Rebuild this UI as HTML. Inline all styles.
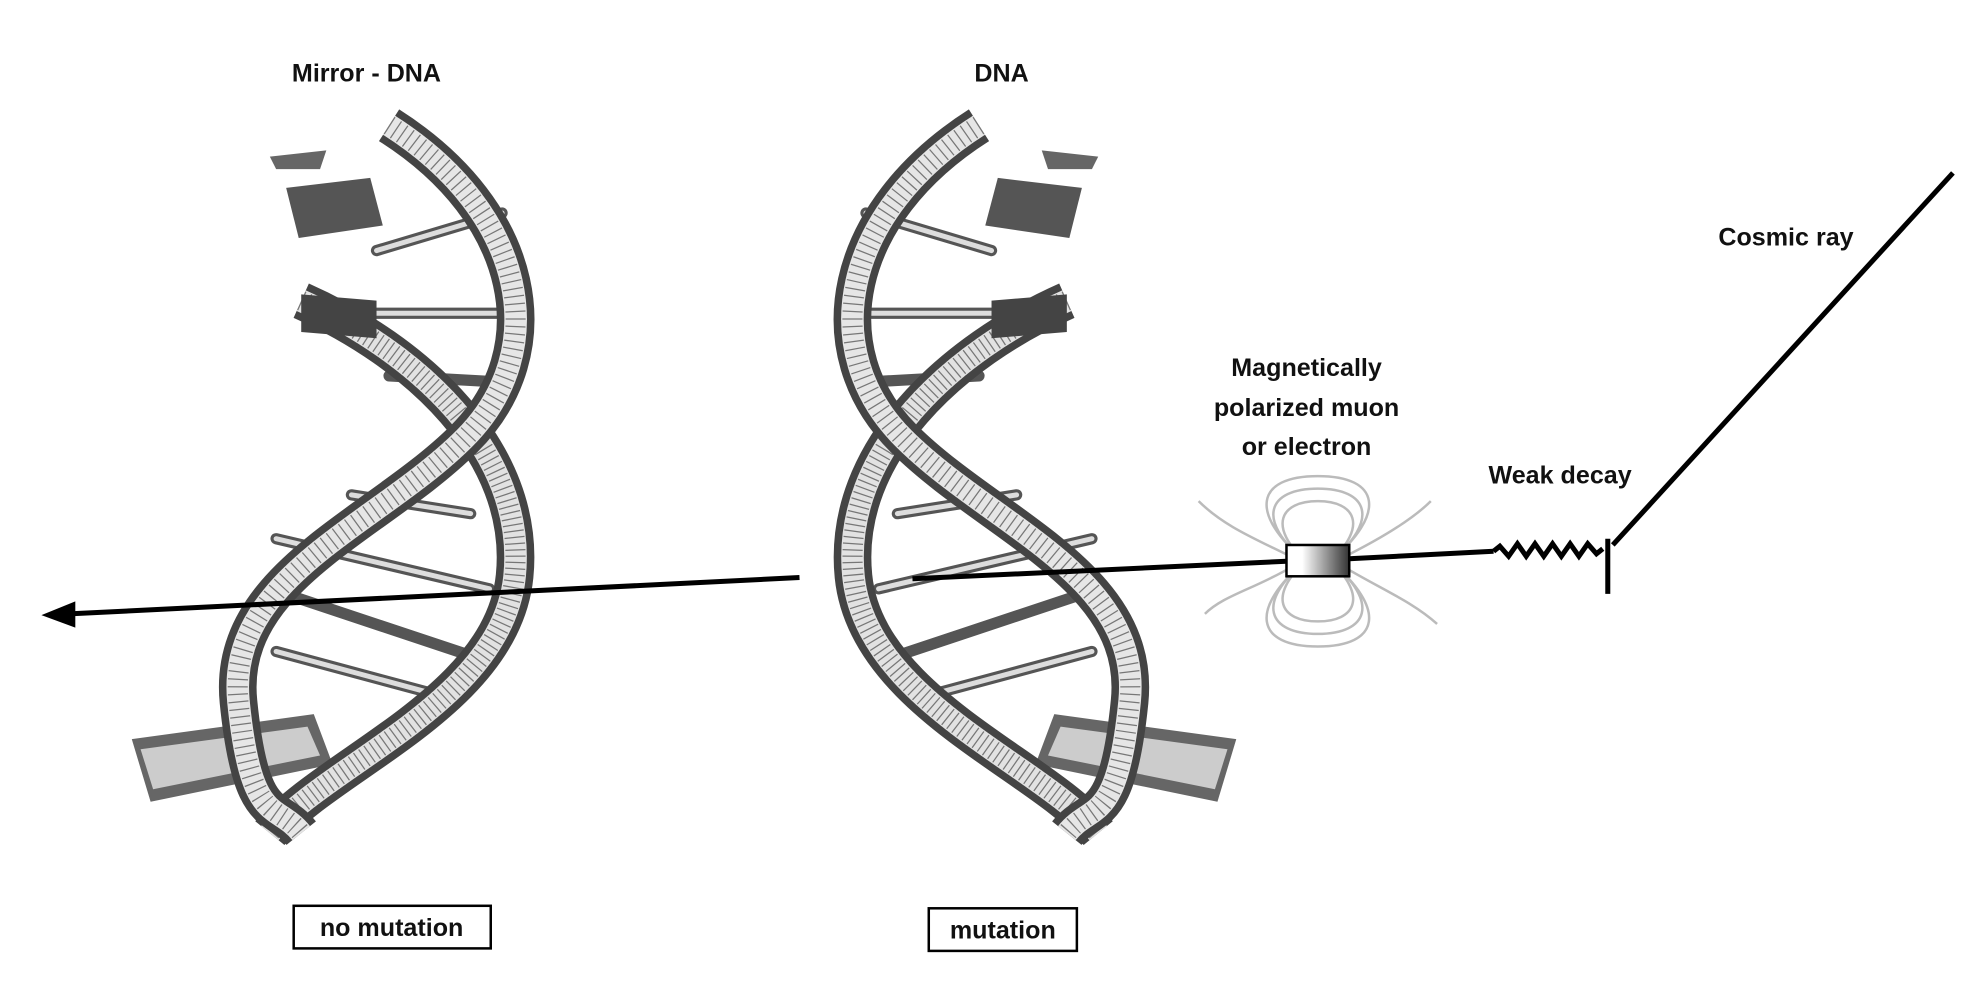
<!DOCTYPE html>
<html><head><meta charset="utf-8"><style>
html,body{margin:0;padding:0;background:#fff;}
svg{display:block;}
text{font-family:"Liberation Sans",sans-serif;font-weight:bold;fill:#111;}
</style></head><body>
<svg width="1968" height="996" viewBox="0 0 1568 795" preserveAspectRatio="none" xmlns="http://www.w3.org/2000/svg">
<defs>
<linearGradient id="g" x1="0" x2="1"><stop offset="0.25" stop-color="#fff"/><stop offset="1" stop-color="#333"/></linearGradient>
<g id="helix">
  <path d="M105 590 L250 570 L265 610 L120 640 Z" fill="#666"/>
  <path d="M112 598 L245 580 L255 603 L122 630 Z" fill="#ccc"/>
  <g stroke="#555" stroke-width="9" stroke-linecap="round">
    <line x1="300" y1="200" x2="400" y2="170"/>
    <line x1="300" y1="250" x2="410" y2="250"/>
    <line x1="310" y1="300" x2="400" y2="305"/>
    <line x1="280" y1="395" x2="375" y2="410"/>
    <line x1="220" y1="430" x2="390" y2="470"/>
    <line x1="215" y1="470" x2="380" y2="525"/>
    <line x1="220" y1="520" x2="350" y2="555"/>
  </g>
  <g stroke="#ddd" stroke-width="4" stroke-linecap="round">
    <line x1="300" y1="200" x2="400" y2="170"/>
    <line x1="300" y1="250" x2="410" y2="250"/>
    <line x1="280" y1="395" x2="375" y2="410"/>
    <line x1="220" y1="430" x2="390" y2="470"/>
    <line x1="220" y1="520" x2="350" y2="555"/>
  </g>
  <path d="M240 240 C330 280 420 360 410 460 S260 610 215 665" fill="none" stroke="#444" stroke-width="30"/>
  <path d="M240 240 C330 280 420 360 410 460 S260 610 215 665" fill="none" stroke="#e2e2e2" stroke-width="18"/>
  <path d="M240 240 C330 280 420 360 410 460 S260 610 215 665" fill="none" stroke="#777" stroke-width="16" stroke-dasharray="1 4"/>
  <path d="M310 100 C420 170 440 280 370 350 S180 460 190 560 S220 640 240 665" fill="none" stroke="#444" stroke-width="30"/>
  <path d="M310 100 C420 170 440 280 370 350 S180 460 190 560 S220 640 240 665" fill="none" stroke="#e6e6e6" stroke-width="18"/>
  <path d="M310 100 C420 170 440 280 370 350 S180 460 190 560 S220 640 240 665" fill="none" stroke="#777" stroke-width="16" stroke-dasharray="1 5"/>
  <path d="M228 150 L295 142 L305 180 L238 190 Z" fill="#555"/>
  <path d="M240 235 L300 240 L300 270 L240 265 Z" fill="#444"/>
  <path d="M215 125 L260 120 L255 135 L220 135Z" fill="#666"/>
</g>
</defs>
<use href="#helix"/>
<use href="#helix" transform="translate(1090,0) scale(-1,1)"/>

<text x="292" y="65" font-size="20" text-anchor="middle">Mirror - DNA</text>
<text x="798" y="65" font-size="20" text-anchor="middle">DNA</text>
<text x="1423" y="196" font-size="20" text-anchor="middle">Cosmic ray</text>
<text x="1041" y="300" font-size="20" text-anchor="middle">Magnetically</text>
<text x="1041" y="332" font-size="20" text-anchor="middle">polarized muon</text>
<text x="1041" y="363" font-size="20" text-anchor="middle">or electron</text>
<text x="1243" y="386" font-size="20" text-anchor="middle">Weak decay</text>

<g fill="none" stroke="#bbb" stroke-width="2">
  <path d="M1040 448 C1010 420 1020 400 1050 400 C1080 400 1090 420 1060 448"/>
  <path d="M1040 448 C1000 415 1010 390 1050 390 C1090 390 1100 415 1060 448"/>
  <path d="M1040 448 C995 410 1000 380 1050 380 C1100 380 1105 410 1060 448"/>
  <path d="M1040 448 C1010 476 1020 496 1050 496 C1080 496 1090 476 1060 448"/>
  <path d="M1040 448 C1000 481 1010 506 1050 506 C1090 506 1100 481 1060 448"/>
  <path d="M1040 448 C995 486 1000 516 1050 516 C1100 516 1105 486 1060 448"/>
  <path d="M1030 445 C1000 430 975 420 955 400"/>
  <path d="M1030 452 C1000 470 975 475 960 490"/>
  <path d="M1070 445 C1100 430 1125 415 1140 400"/>
  <path d="M1070 452 C1100 470 1125 480 1145 498"/>
</g>

<g stroke="#000" stroke-width="4" fill="none">
  <line x1="1556" y1="138" x2="1285" y2="435"/>
  <line x1="1281" y1="430" x2="1281" y2="474"/>
  <path d="M1190 440 l5 -4 l7 8 l7 -10 l7 10 l7 -10 l7 10 l7 -10 l7 10 l7 -10 l7 10 l7 -10 l7 8 l5 -4"/>
  <line x1="1190" y1="440" x2="1075" y2="446"/>
  <line x1="1025" y1="448" x2="727" y2="462"/>
  <line x1="637" y1="461" x2="55" y2="490"/>
</g>
<polygon points="33,491 60,480 60,501" fill="#000"/>
<rect x="1025" y="435" width="50" height="25" fill="url(#g)" stroke="#000" stroke-width="2"/>

<rect x="234" y="723" width="157" height="34" fill="#fff" stroke="#000" stroke-width="2"/>
<text x="312" y="747" font-size="20" text-anchor="middle">no mutation</text>
<rect x="740" y="725" width="118" height="34" fill="#fff" stroke="#000" stroke-width="2"/>
<text x="799" y="749" font-size="20" text-anchor="middle">mutation</text>
</svg>
</body></html>
